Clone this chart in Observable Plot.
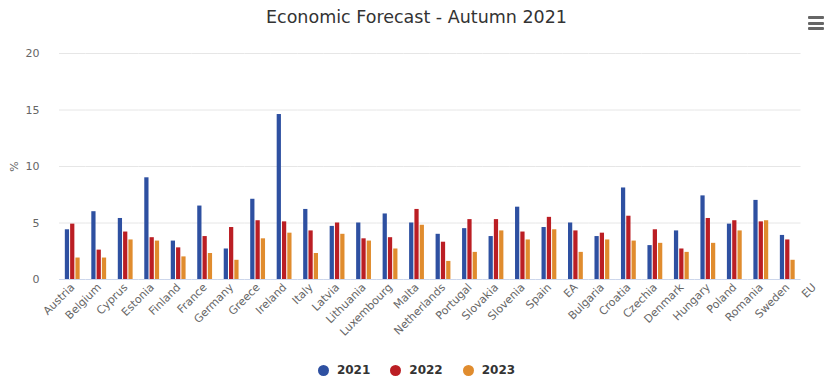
<!DOCTYPE html>
<html>
<head>
<meta charset="utf-8">
<script src="https://cdn.jsdelivr.net/npm/d3@7"></script>
<script src="https://cdn.jsdelivr.net/npm/@observablehq/plot@0.6"></script>
<style>
  html, body { margin: 0; padding: 0; background: #fff; }
  #wrap { position: relative; width: 833px; height: 389px; font-family: "DejaVu Sans", sans-serif; }
  #title { position: absolute; left: 0; top: 5px; width: 833px; text-align: center; font-size: 17.5px; color: #333; line-height: 24px; }
  #menu { position: absolute; left: 808px; top: 16px; width: 16px; }
  #menu div { height: 3px; background: #666; margin-bottom: 2.5px; border-radius: 1px; }
  #chart { position: absolute; left: 0; top: 40px; }
  #legend { position: absolute; left: 0; top: 361px; width: 833px; display: flex; justify-content: center; font-size: 12px; font-weight: bold; color: #333; line-height: 18px; }
  .item { display: flex; align-items: center; margin: 0 10px; }
  .dot { width: 11px; height: 11px; border-radius: 50%; margin-right: 8px; }
</style>
</head>
<body>
<div id="wrap">
  <div id="title">Economic Forecast - Autumn 2021</div>
  <div id="menu"><div></div><div></div><div></div></div>
  <div id="chart"></div>
  <div id="legend"></div>
</div>
<script>
const countries = ["Austria","Belgium","Cyprus","Estonia","Finland","France","Germany","Greece","Ireland","Italy","Latvia","Lithuania","Luxembourg","Malta","Netherlands","Portugal","Slovakia","Slovenia","Spain","EA","Bulgaria","Croatia","Czechia","Denmark","Hungary","Poland","Romania","Sweden","EU"];
const years = ["2021","2022","2023"];
const v2021 = [4.4,6.0,5.4,9.0,3.4,6.5,2.7,7.1,14.6,6.2,4.7,5.0,5.8,5.0,4.0,4.5,3.8,6.4,4.6,5.0,3.8,8.1,3.0,4.3,7.4,4.9,7.0,3.9,null];
const v2022 = [4.9,2.6,4.2,3.7,2.8,3.8,4.6,5.2,5.1,4.3,5.0,3.6,3.7,6.2,3.3,5.3,5.3,4.2,5.5,4.3,4.1,5.6,4.4,2.7,5.4,5.2,5.1,3.5,null];
const v2023 = [1.9,1.9,3.5,3.4,2.0,2.3,1.7,3.6,4.1,2.3,4.0,3.4,2.7,4.8,1.6,2.4,4.3,3.5,4.4,2.4,3.5,3.4,3.2,2.4,3.2,4.3,5.2,1.7,null];
const yTicks = [0,5,10,15,20];
const colors = ["#2e50a1","#bb1e24","#e08c2e"];

const series = [v2021, v2022, v2023];
const data = countries.flatMap((c, i) => years.map((y, j) => ({country: c, year: y, value: series[j][i]})))
  .filter(d => d.value != null);

const chart = Plot.plot({
  width: 833,
  height: 310,
  marginLeft: 59,
  marginRight: 6,
  marginTop: 13,
  marginBottom: 71,
  style: {fontFamily: "DejaVu Sans, sans-serif", fontSize: "11px", color: "#666", background: "transparent"},
  fx: {domain: countries, padding: 0, round: false, label: null, tickRotate: -45, tickSize: 0, tickPadding: 6, axis: "bottom"},
  x: {domain: years, paddingInner: 0.2, paddingOuter: 1.1, round: false, axis: null},
  y: {domain: [0, 20], ticks: yTicks, tickSize: 0, tickPadding: 20, label: "%", labelAnchor: "center", labelArrow: "none", labelOffset: 49},
  color: {domain: years, range: colors},
  marks: [
    Plot.ruleY(yTicks.filter(t => t > 0), {stroke: "#e6e6e6", strokeWidth: 1}),
    Plot.barY(data, {fx: "country", x: "year", y: "value", fill: "year", inset: 0}),
    Plot.ruleY([0], {stroke: "#ccd6eb", strokeWidth: 1})
  ]
});
document.getElementById("chart").appendChild(chart);

const legend = document.getElementById("legend");
years.forEach((y, i) => {
  const it = document.createElement("div");
  it.className = "item";
  const dot = document.createElement("div");
  dot.className = "dot";
  dot.style.background = colors[i];
  const t = document.createElement("span");
  t.textContent = y;
  it.appendChild(dot); it.appendChild(t);
  legend.appendChild(it);
});
</script>
</body>
</html>
